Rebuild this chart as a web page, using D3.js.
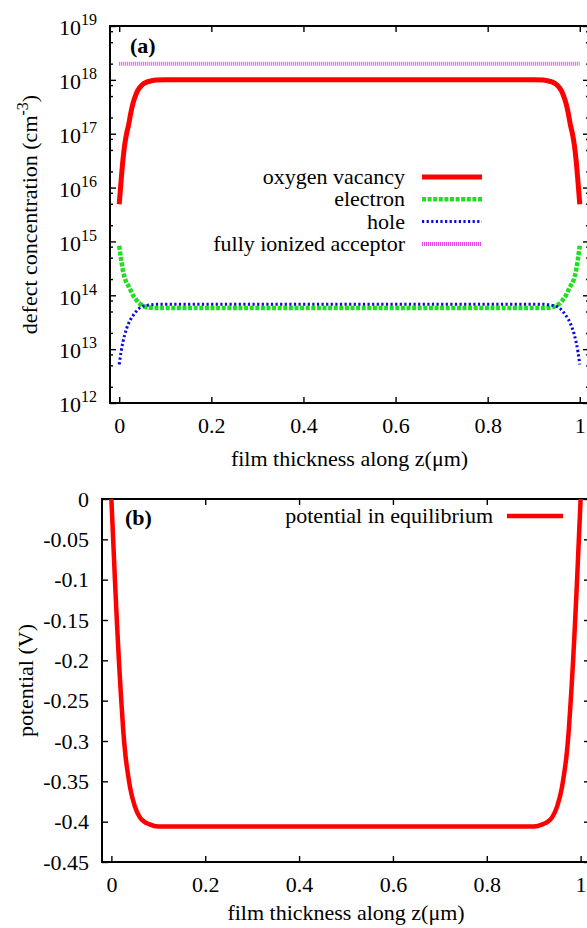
<!DOCTYPE html>
<html>
<head>
<meta charset="utf-8">
<script src="https://cdn.jsdelivr.net/npm/d3@7"></script>
<style>
  body { margin: 0; background: #fff; }
  svg text { font-family: "Liberation Serif", "Times New Roman", serif; fill: #000; }
</style>
</head>
<body>
<div id="chart"></div>
<script>
// ---- data ----
// panel (a): positions along z (um) and concentrations (cm^-3)
const zA = [0, 0.004, 0.008, 0.012, 0.016, 0.02, 0.025, 0.03, 0.035, 0.04, 0.05, 0.06, 0.07, 0.08, 0.1,
            0.2, 0.3, 0.4, 0.5, 0.6, 0.7, 0.8,
            0.9, 0.92, 0.93, 0.94, 0.95, 0.96, 0.965, 0.97, 0.975, 0.98, 0.984, 0.988, 0.992, 0.996, 1.0];
const oxygenVacancy = [4.9e15, 1.3e16, 3.2e16, 6.3e16, 1.0e17, 1.4e17, 2.4e17, 3.7e17, 5.0e17, 6.3e17, 8.1e17, 9.1e17, 9.6e17, 9.9e17, 1.0e18,
            1.0e18, 1.0e18, 1.0e18, 1.0e18, 1.0e18, 1.0e18, 1.0e18,
            1.0e18, 9.9e17, 9.6e17, 9.1e17, 8.1e17, 6.3e17, 5.0e17, 3.7e17, 2.4e17, 1.4e17, 1.0e17, 6.3e16, 3.2e16, 1.3e16, 4.9e15];
const electron = [8.3e14, 4.7e14, 2.9e14, 2.1e14, 1.7e14, 1.5e14, 1.23e14, 1.0e14, 8.7e13, 7.6e13, 6.5e13, 6.0e13, 5.85e13, 5.8e13, 5.8e13,
            5.8e13, 5.8e13, 5.8e13, 5.8e13, 5.8e13, 5.8e13, 5.8e13,
            5.8e13, 5.8e13, 5.85e13, 6.0e13, 6.5e13, 7.6e13, 8.7e13, 1.0e14, 1.23e14, 1.5e14, 1.7e14, 2.1e14, 2.9e14, 4.7e14, 8.3e14];
const hole = [5.2e12, 8.9e12, 1.35e13, 1.86e13, 2.4e13, 2.95e13, 3.6e13, 4.2e13, 4.8e13, 5.4e13, 6.2e13, 6.5e13, 6.7e13, 6.8e13, 6.8e13,
            6.8e13, 6.8e13, 6.8e13, 6.8e13, 6.8e13, 6.8e13, 6.8e13,
            6.8e13, 6.8e13, 6.7e13, 6.5e13, 6.2e13, 5.4e13, 4.8e13, 4.2e13, 3.6e13, 2.95e13, 2.4e13, 1.86e13, 1.35e13, 8.9e12, 5.2e12];
const acceptorZ = [0, 1];
const acceptor = [2e18, 2e18];

// panel (b): potential (V)
const zB = [0, 0.004, 0.008, 0.012, 0.016, 0.02, 0.025, 0.03, 0.035, 0.04, 0.05, 0.06, 0.07, 0.08, 0.1,
            0.2, 0.3, 0.4, 0.5, 0.6, 0.7, 0.8,
            0.9, 0.92, 0.93, 0.94, 0.95, 0.96, 0.965, 0.97, 0.975, 0.98, 0.984, 0.988, 0.992, 0.996, 1.0];
const potential = [0, -0.053, -0.106, -0.155, -0.2, -0.24, -0.285, -0.318, -0.34, -0.358, -0.381, -0.394, -0.4, -0.403, -0.406,
            -0.406, -0.406, -0.406, -0.406, -0.406, -0.406, -0.406,
            -0.406, -0.403, -0.4, -0.394, -0.381, -0.358, -0.34, -0.318, -0.285, -0.24, -0.2, -0.155, -0.106, -0.053, 0];

const xTicks = [0, 0.2, 0.4, 0.6, 0.8, 1];
const xTickLabels = ["0", "0.2", "0.4", "0.6", "0.8", "1"];
const concDecades = [1e12, 1e13, 1e14, 1e15, 1e16, 1e17, 1e18, 1e19];
const concMinorSteps = [2, 5, 8];
const potTicks = [0, -0.05, -0.1, -0.15, -0.2, -0.25, -0.3, -0.35, -0.4, -0.45];
const potTickLabels = ["0", "-0.05", "-0.1", "-0.15", "-0.2", "-0.25", "-0.3", "-0.35", "-0.4", "-0.45"];

const seriesA = [
  {name: "oxygen vacancy", z: zA, v: oxygenVacancy, color: "#ff0000", width: 5, dash: null},
  {name: "electron", z: zA, v: electron, color: "#1ee01e", width: 4.5, dash: "4,1.6"},
  {name: "hole", z: zA, v: hole, color: "#0a0ae0", width: 3, dash: "2.2,2.4"},
  {name: "fully ionized acceptor", z: acceptorZ, v: acceptor, color: "#e84ae8", width: 4, dash: "1,1"}
];

// ---- layout ----
const width = 587, height = 928;
const fontSize = 22;

const svg = d3.select("#chart").append("svg")
  .attr("width", width)
  .attr("height", height);

const panelA = {left: 110, right: 589, top: 26, bottom: 403};
const panelB = {left: 102, right: 590, top: 499, bottom: 862};

const xA = d3.scaleLinear().domain([-0.02, 1.02]).range([panelA.left, panelA.right]);
const yA = d3.scaleLog().domain([1e12, 1e19]).range([panelA.bottom, panelA.top]);
const xB = d3.scaleLinear().domain([-0.02, 1.02]).range([panelB.left, panelB.right]);
const yB = d3.scaleLinear().domain([-0.45, 0]).range([panelB.bottom, panelB.top]);

function styleAxis(g) {
  g.attr("font-size", fontSize).attr("font-family", null);
  g.select(".domain").remove();
  g.selectAll(".tick line").attr("stroke", "#000").attr("stroke-width", 1.4);
}

function drawFrame(p) {
  svg.append("rect")
    .attr("x", p.left).attr("y", p.top)
    .attr("width", p.right - p.left).attr("height", p.bottom - p.top)
    .attr("fill", "none").attr("stroke", "#000").attr("stroke-width", 2);
}

function xAxes(p, x) {
  svg.append("g")
    .attr("transform", `translate(0,${p.bottom})`)
    .call(d3.axisBottom(x).tickValues(xTicks).tickSizeInner(-6).tickSizeOuter(0).tickPadding(14.4)
      .tickFormat((d, i) => xTickLabels[i]))
    .call(styleAxis);
  svg.append("g")
    .attr("transform", `translate(0,${p.top})`)
    .call(d3.axisTop(x).tickValues(xTicks).tickSizeInner(-6).tickSizeOuter(0).tickFormat(""))
    .call(styleAxis);
}

// ---- panel (a) ----
xAxes(panelA, xA);

const minorA = [];
concDecades.slice(0, -1).forEach(d => concMinorSteps.forEach(m => minorA.push(d * m)));

const leftA = svg.append("g")
  .attr("transform", `translate(${panelA.left},0)`)
  .call(d3.axisLeft(yA).tickValues(concDecades).tickSizeInner(-6).tickSizeOuter(0).tickFormat(""))
  .call(styleAxis);
leftA.selectAll(".tick").append("text")
  .attr("x", -13).attr("dy", "0.4em").attr("text-anchor", "end")
  .each(function (d) {
    const t = d3.select(this);
    t.append("tspan").text("10");
    t.append("tspan").attr("dy", -10).attr("font-size", 16).text(Math.round(Math.log10(d)));
  });
svg.append("g")
  .attr("transform", `translate(${panelA.left},0)`)
  .call(d3.axisLeft(yA).tickValues(minorA).tickSizeInner(-3).tickSizeOuter(0).tickFormat(""))
  .call(styleAxis);
svg.append("g")
  .attr("transform", `translate(${panelA.right},0)`)
  .call(d3.axisRight(yA).tickValues(concDecades).tickSizeInner(-6).tickSizeOuter(0).tickFormat(""))
  .call(styleAxis);
svg.append("g")
  .attr("transform", `translate(${panelA.right},0)`)
  .call(d3.axisRight(yA).tickValues(minorA).tickSizeInner(-3).tickSizeOuter(0).tickFormat(""))
  .call(styleAxis);

drawFrame(panelA);

const lineA = d3.line()
  .x(d => xA(d[0]))
  .y(d => yA(d[1]))
  .curve(d3.curveMonotoneX);

seriesA.forEach(s => {
  svg.append("path")
    .datum(d3.zip(s.z, s.v))
    .attr("d", lineA)
    .attr("fill", "none")
    .attr("stroke", s.color)
    .attr("stroke-width", s.width)
    .attr("stroke-dasharray", s.dash);
});

// legend (a)
const legA = svg.append("g").attr("font-size", fontSize);
seriesA.forEach((s, i) => {
  const yy = 177 + i * 22.3;
  legA.append("text")
    .attr("x", 405).attr("y", yy + 7)
    .attr("text-anchor", "end")
    .text(s.name);
  legA.append("line")
    .attr("x1", 422).attr("x2", 482)
    .attr("y1", yy).attr("y2", yy)
    .attr("stroke", s.color)
    .attr("stroke-width", s.width)
    .attr("stroke-dasharray", s.dash);
});

svg.append("text")
  .attr("x", 130).attr("y", 53)
  .attr("font-size", fontSize).attr("font-weight", "bold")
  .text("(a)");

const yLabA = svg.append("text")
  .attr("transform", `translate(37,${(panelA.top + panelA.bottom) / 2}) rotate(-90)`)
  .attr("text-anchor", "middle")
  .attr("font-size", fontSize);
yLabA.append("tspan").text("defect concentration (cm");
yLabA.append("tspan").attr("dy", -9).attr("font-size", 16).text("-3");
yLabA.append("tspan").attr("dy", 9).text(")");

svg.append("text")
  .attr("x", (panelA.left + panelA.right) / 2).attr("y", 466)
  .attr("text-anchor", "middle")
  .attr("font-size", fontSize)
  .text("film thickness along z(\u03bcm)");

// ---- panel (b) ----
xAxes(panelB, xB);

svg.append("g")
  .attr("transform", `translate(${panelB.left},0)`)
  .call(d3.axisLeft(yB).tickValues(potTicks).tickSizeInner(-6).tickSizeOuter(0).tickPadding(13)
    .tickFormat((d, i) => potTickLabels[i]))
  .call(styleAxis);
svg.append("g")
  .attr("transform", `translate(${panelB.right},0)`)
  .call(d3.axisRight(yB).tickValues(potTicks).tickSizeInner(-6).tickSizeOuter(0).tickFormat(""))
  .call(styleAxis);

drawFrame(panelB);

const lineB = d3.line()
  .x(d => xB(d[0]))
  .y(d => yB(d[1]))
  .curve(d3.curveMonotoneX);

svg.append("path")
  .datum(d3.zip(zB, potential))
  .attr("d", lineB)
  .attr("fill", "none")
  .attr("stroke", "#ff0000")
  .attr("stroke-width", 4.5);

svg.append("text")
  .attr("x", 493).attr("y", 523)
  .attr("text-anchor", "end")
  .attr("font-size", fontSize)
  .text("potential in equilibrium");
svg.append("line")
  .attr("x1", 507).attr("x2", 563)
  .attr("y1", 516).attr("y2", 516)
  .attr("stroke", "#ff0000")
  .attr("stroke-width", 4.5);

svg.append("text")
  .attr("x", 125).attr("y", 525)
  .attr("font-size", fontSize).attr("font-weight", "bold")
  .text("(b)");

svg.append("text")
  .attr("transform", `translate(33,${(panelB.top + panelB.bottom) / 2}) rotate(-90)`)
  .attr("text-anchor", "middle")
  .attr("font-size", fontSize)
  .text("potential (V)");

svg.append("text")
  .attr("x", (panelB.left + panelB.right) / 2).attr("y", 920)
  .attr("text-anchor", "middle")
  .attr("font-size", fontSize)
  .text("film thickness along z(\u03bcm)");
</script>
</body>
</html>
